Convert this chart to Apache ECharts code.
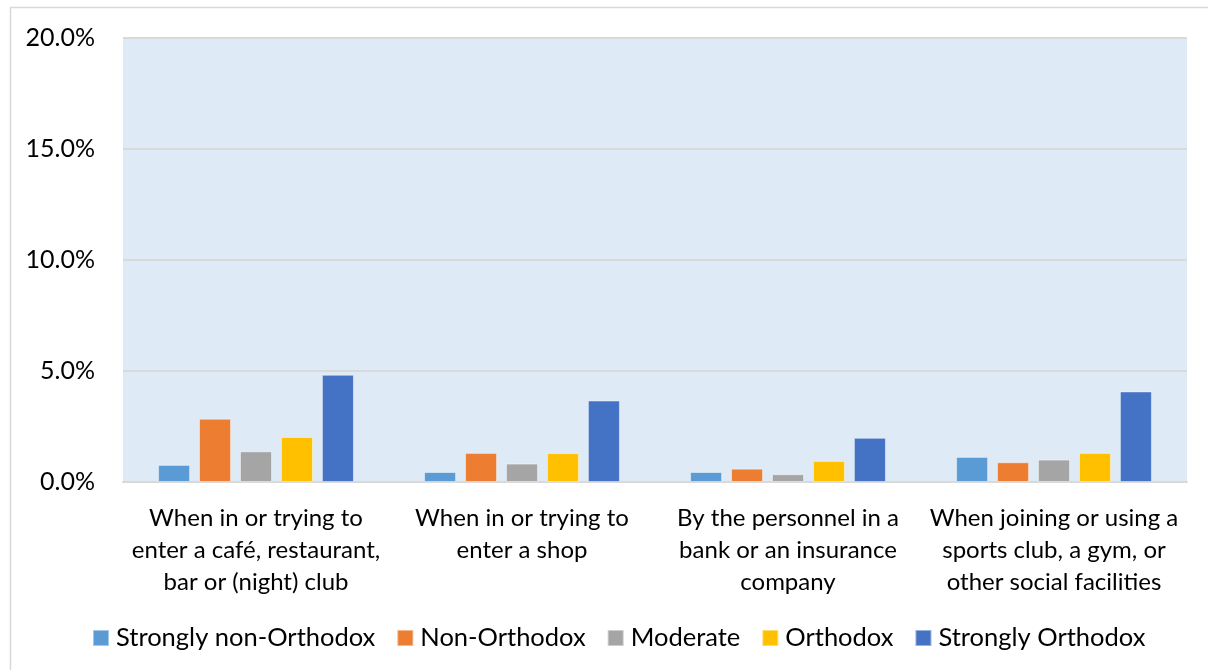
<!DOCTYPE html>
<html>
<head>
<meta charset="utf-8">
<script src="https://cdn.jsdelivr.net/npm/echarts@6/dist/echarts.min.js"></script>
<style>
html,body{margin:0;padding:0;background:#fff;}
#chart{width:1208px;height:670px;}
</style>
</head>
<body>
<div id="chart"></div>
<script>
const categories = [
  "When in or trying to\nenter a café, restaurant,\nbar or (night) club",
  "When in or trying to\nenter a shop",
  "By the personnel in a\nbank or an insurance\ncompany",
  "When joining or using a\nsports club, a gym, or\nother social facilities"
];
const seriesNames = ["Strongly non-Orthodox", "Non-Orthodox", "Moderate", "Orthodox", "Strongly Orthodox"];
const stronglyNonOrthodox = [0.77, 0.45, 0.45, 1.13];
const nonOrthodox = [2.85, 1.31, 0.60, 0.89];
const moderate = [1.38, 0.83, 0.35, 1.01];
const orthodox = [2.03, 1.30, 0.95, 1.31];
const stronglyOrthodox = [4.83, 3.67, 1.99, 4.08];
const yTicks = [0, 5, 10, 15, 20];

const colors = ["#5B9BD5", "#ED7D31", "#A5A5A5", "#FFC000", "#4472C4"];
const values = [stronglyNonOrthodox, nonOrthodox, moderate, orthodox, stronglyOrthodox];
const FONT = "Lato";

const chart = echarts.init(document.getElementById('chart'), null, {renderer: 'canvas'});
chart.setOption({
  animation: false,
  textStyle: {fontFamily: FONT},
  graphic: [{
    type: 'rect',
    shape: {x: 10.5, y: 7.5, width: 1300, height: 800},
    style: {fill: 'none', stroke: '#D9D9D9', lineWidth: 1.5},
    z: -10
  }],
  grid: {
    left: 123, right: 21, top: 38, bottom: 188,
    show: true, backgroundColor: '#DEEAF6', borderWidth: 0
  },
  legend: {
    bottom: 14, left: 87,
    itemWidth: 16, itemHeight: 16, itemGap: 21,
    icon: 'rect',
    textStyle: {fontFamily: FONT, fontSize: 25.5, color: '#000', padding: [0, 0, 0, 2]},
    data: seriesNames
  },
  xAxis: {
    type: 'category',
    data: categories,
    axisLine: {lineStyle: {color: '#D9D9D9', width: 2}},
    axisTick: {show: false},
    axisLabel: {
      interval: 0, margin: 20, fontFamily: FONT, fontSize: 24,
      color: '#000', lineHeight: 32, align: 'center'
    }
  },
  yAxis: {
    type: 'value',
    min: 0, max: 20, interval: 5,
    axisLine: {show: false},
    axisTick: {show: false},
    splitLine: {lineStyle: {color: '#D9D9D9', width: 2}},
    axisLabel: {
      margin: 28, fontFamily: FONT, fontSize: 25, color: '#000',
      formatter: v => yTicks.includes(v) ? v.toFixed(1) + '%' : ''
    }
  },
  series: seriesNames.map((name, i) => ({
    name: name,
    type: 'bar',
    data: values[i],
    barWidth: 32,
    barGap: '28%',
    itemStyle: {color: colors[i], borderColor: 'rgba(255,255,255,0.45)', borderWidth: 1}
  }))
});
</script>
</body>
</html>
